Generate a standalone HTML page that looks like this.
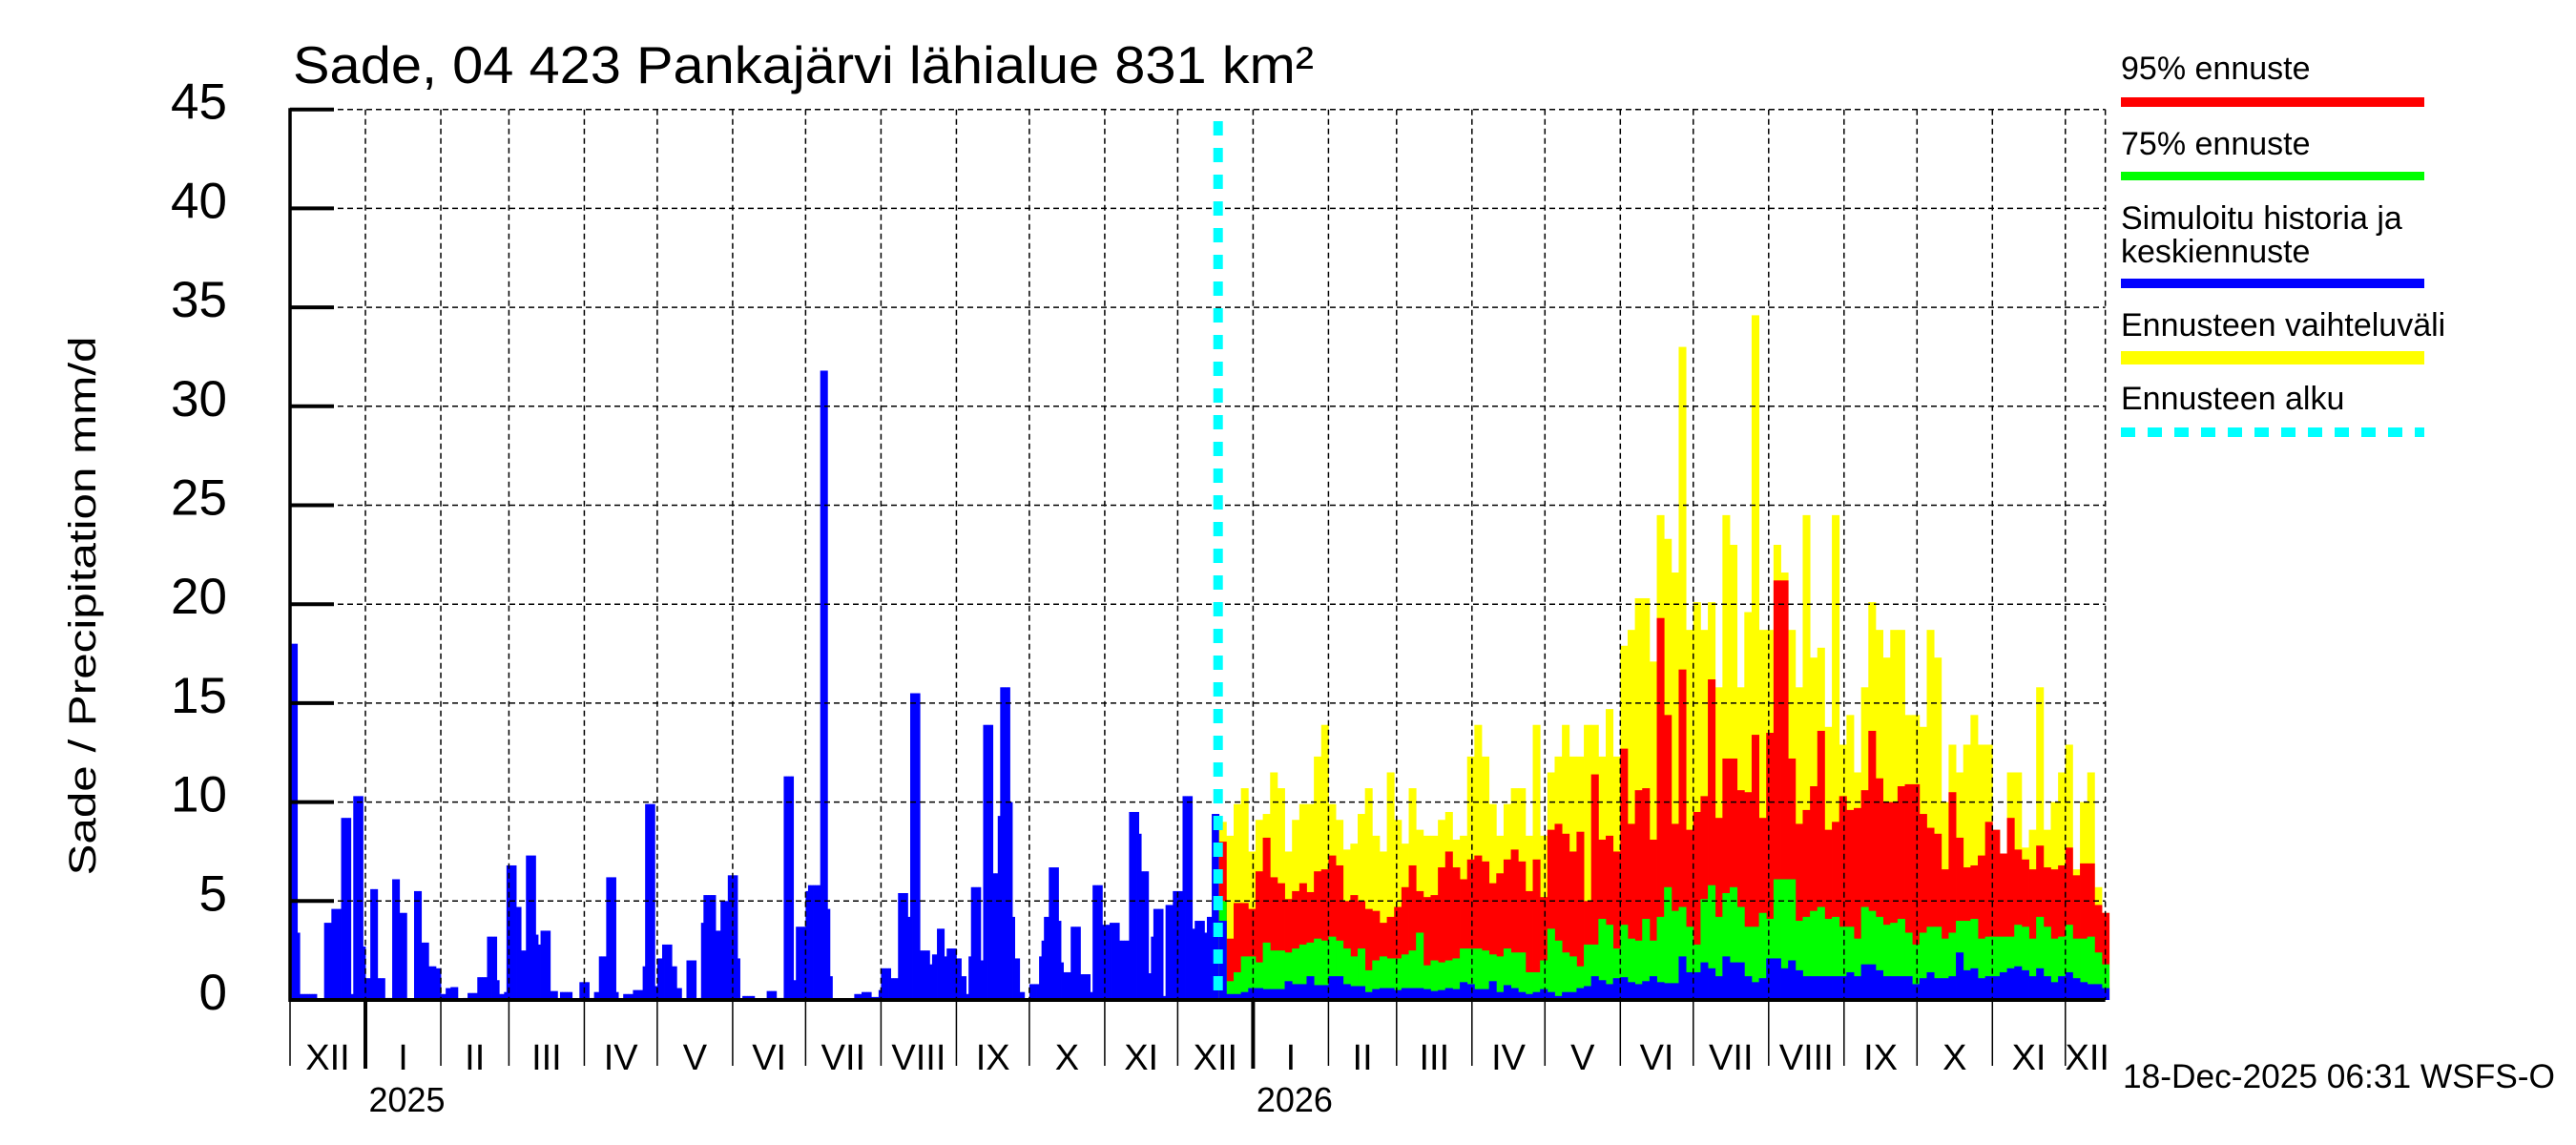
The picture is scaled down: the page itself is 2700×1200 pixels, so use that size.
<!DOCTYPE html>
<html><head><meta charset="utf-8"><title>Sade, 04 423 Pankajärvi lähialue</title>
<style>
html,body{margin:0;padding:0;background:#fff;}
svg{display:block;font-family:"Liberation Sans",sans-serif;}
</style></head>
<body>
<svg id="chart" width="2700" height="1200" viewBox="0 0 2700 1200" xmlns="http://www.w3.org/2000/svg">
<rect x="0" y="0" width="2700" height="1200" fill="#fff"/>
<g id="bars"></g>
<g id="grid"></g>
<g id="axes"></g>
<text x="307" y="87" font-size="55" textLength="1070" lengthAdjust="spacingAndGlyphs">Sade, 04 423 Pankajärvi lähialue 831 km²</text>
<text transform="translate(100,635) rotate(-90)" text-anchor="middle" font-size="40" textLength="565" lengthAdjust="spacingAndGlyphs">Sade / Precipitation   mm/d</text>
<text x="2225" y="1140" font-size="35" textLength="453" lengthAdjust="spacingAndGlyphs">18-Dec-2025 06:31 WSFS-O</text>
<g font-size="34">
  <text x="2223" y="83">95% ennuste</text>
  <rect x="2223" y="102" width="318" height="10" fill="#ff0000"/>
  <text x="2223" y="162">75% ennuste</text>
  <rect x="2223" y="180" width="318" height="9" fill="#00ff00"/>
  <text x="2223" y="240">Simuloitu historia ja</text>
  <text x="2223" y="275">keskiennuste</text>
  <rect x="2223" y="292" width="318" height="10" fill="#0000ff"/>
  <text x="2223" y="352">Ennusteen vaihteluväli</text>
  <rect x="2223" y="368" width="318" height="14" fill="#ffff00"/>
  <text x="2223" y="429">Ennusteen alku</text>
  <line x1="2223" y1="453" x2="2541" y2="453" stroke="#00ffff" stroke-width="10" stroke-dasharray="15,13"/>
</g>
</svg>
<script>
// ---- data ----
const histValues = [
18,18,18,3.4,0.3,0.3,0.3,0.3,0.3,0.3,
0.3,0,0,0,3.9,3.9,3.9,4.6,4.6,4.6,
4.6,9.2,9.2,9.2,9.2,0.3,10.3,10.3,10.3,10.3,
2.7,1.1,1.1,5.6,5.6,5.6,1.1,1.1,1.1,0.1,
0.1,0.1,6.1,6.1,6.1,4.4,4.4,4.4,0,0,
0,5.5,5.5,5.5,2.9,2.9,2.9,1.7,1.7,1.7,
1.6,1.6,0.3,0.3,0.6,0.6,0.65,0.65,0.65,0,
0,0.1,0.1,0.35,0.35,0.35,0.35,1.15,1.15,1.15,
1.15,3.2,3.2,3.2,3.2,1.0,0.3,0.3,0.4,6.8,
6.8,6.8,6.8,4.7,4.7,2.5,2.5,7.3,7.3,7.3,
7.3,3.3,2.8,3.5,3.5,3.5,3.5,0.45,0.45,0.45,
0,0.4,0.4,0.4,0.4,0.4,0,0,0,0.9,
0.9,0.9,0.9,0.1,0.1,0.4,0.4,2.2,2.2,2.2,
6.2,6.2,6.2,6.2,0.4,0,0,0.3,0.3,0.3,
0.3,0.5,0.5,0.5,0.5,1.7,9.9,9.9,9.9,9.9,
0.7,2.1,2.1,2.8,2.8,2.8,2.8,1.7,1.7,0.6,
0.6,0,0,2.0,2.0,2.0,2.0,0,0.1,3.9,
5.3,5.3,5.3,5.3,5.3,3.5,3.5,5.0,5.0,5.0,
6.3,6.3,6.3,6.3,2.1,0,0.2,0.2,0.2,0.2,
0.2,0.05,0.05,0.05,0.05,0.05,0.45,0.45,0.45,0.45,
0.1,0.1,0.1,11.3,11.3,11.3,11.3,1.0,3.7,3.7,
3.7,3.7,5.5,5.8,5.8,5.8,5.8,5.8,31.8,31.8,
31.8,4.6,1.2,0.05,0.05,0.05,0.05,0.05,0.05,0.05,
0.05,0.05,0.3,0.3,0.3,0.4,0.4,0.4,0.4,0.15,
0.15,0.15,0.5,1.6,1.6,1.6,1.6,1.1,1.1,1.1,
5.4,5.4,5.4,5.4,4.2,15.5,15.5,15.5,15.5,2.5,
2.5,2.5,2.5,1.8,2.3,2.3,3.6,3.6,3.6,2.2,
2.6,2.6,2.6,2.6,2.1,2.1,1.2,1.2,0.3,2.2,
5.7,5.7,5.7,5.7,2.0,13.9,13.9,13.9,13.9,6.4,
6.4,9.3,15.8,15.8,15.8,15.8,10,4.2,2.1,2.1,
0.4,0.4,0,0,0.8,0.8,0.8,0.8,2.2,3.0,
4.2,4.2,6.7,6.7,6.7,6.7,4.0,1.9,1.4,1.4,
1.4,3.7,3.7,3.7,3.7,1.3,1.3,1.3,1.3,0.4,
5.8,5.8,5.8,5.8,3.8,3.8,3.8,3.9,3.9,3.9,
3.9,3.0,3.0,3.0,3.0,9.5,9.5,9.5,9.5,8.4,
6.5,6.5,6.5,1.35,3.2,4.6,4.6,4.6,4.6,0.2,
4.8,4.8,4.8,5.5,5.5,5.5,5.5,10.3,10.3,10.3,
10.3,3.6,4.0,4.0,4.0,4.0,3.4,4.2,4.2,9.4,9.4,9.4
];
const fcYellow = [
9,8.3,9.9,10.7,7.5,9.1,9.4,11.5,10.7,7.5,
9.1,9.9,9.9,12.3,13.9,9.9,9.1,7.6,7.9,9.4,
10.7,8.3,7.5,11.5,9.1,7.9,10.7,8.6,8.3,8.3,
9.1,9.5,8.1,8.3,12.3,13.9,12.3,9.9,8.3,9.9,
10.7,10.7,8.3,13.9,8.3,11.5,12.3,13.9,12.3,12.3,
13.9,13.9,12.3,14.7,12.3,17.9,18.7,20.3,20.3,17.1,
24.5,23.3,21.6,33,18.7,20.1,18.7,20.1,15.8,24.5,
23,15.8,19.6,34.6,18.7,18.7,23,21.6,18.7,15.8,
24.5,17.3,17.8,13.8,24.5,12.9,14.4,11.5,15.8,20.1,
18.7,17.3,18.7,18.7,14.4,14.4,13.8,18.7,17.3,10,
12.9,11.5,12.9,14.4,12.9,12.9,8.6,7.4,11.5,11.5,
7.7,8.6,15.8,8.6,10,11.5,12.9,6.6,10,11.5,
5.7,4.4
];
const fcRed = [
8,3.1,4.9,4.9,4.6,6.5,8.2,6.2,5.9,5.1,
5.5,5.9,5.45,6.5,6.6,7.3,6.8,5.0,5.3,5.0,
4.6,4.5,3.9,4.2,4.7,5.7,6.8,5.5,5.2,5.3,
6.7,7.5,6.7,6.1,7.1,7.3,7.0,5.9,6.4,7.1,
7.6,7.0,5.5,7.1,5.2,8.6,8.9,8.4,7.5,8.5,
5.0,11.4,8.1,8.3,7.5,12.7,8.9,10.6,10.7,8.1,
19.3,14.4,8.9,16.7,8.6,9.5,10.3,16.2,9.2,12.2,
12.2,10.6,10.5,13.4,9.2,13.5,21.2,21.2,12.2,8.9,
9.6,10.8,13.6,8.6,9.0,10.3,9.6,9.7,10.6,13.6,
11.2,10.0,10.0,10.8,10.9,10.9,9.4,8.7,8.4,6.6,
10.5,8.2,6.7,6.8,7.3,9.0,8.6,7.4,9.2,7.6,
7.1,6.6,7.8,6.7,6.6,6.8,7.7,6.3,6.9,6.9,
4.8,4.4
];
const fcGreen = [
5,0.95,1.4,2.2,2.2,1.9,2.9,2.5,2.5,2.4,
2.6,2.8,2.9,3.1,3.0,3.2,3.0,2.6,2.2,2.6,
1.5,2.0,2.2,2.1,2.1,2.3,2.5,3.4,1.75,2.0,
1.9,2.0,2.1,2.6,2.6,2.6,2.5,2.3,2.2,2.6,
2.4,2.4,1.4,1.4,2.0,3.6,3.0,2.4,2.2,1.7,
2.8,2.8,4.1,3.8,2.6,3.8,3.1,3.0,4.1,3.0,
4.2,5.7,4.5,4.7,3.7,2.8,5.1,5.8,4.2,5.4,
5.7,4.7,3.7,3.7,4.4,4.1,6.1,6.1,6.1,4.0,
4.2,4.5,4.7,4.1,4.2,3.7,3.7,3.1,4.7,4.5,
4.2,3.8,3.9,4.1,3.4,2.8,3.4,3.7,3.7,3.1,
3.4,4.0,4.0,4.1,3.1,3.2,3.2,3.2,3.2,3.8,
3.7,3.1,4.2,3.7,3.1,3.2,3.8,3.1,3.1,3.2,
2.4,1.8
];
const fcBlue = [
4,0.3,0.3,0.4,0.6,0.6,0.55,0.55,0.55,0.95,
0.8,0.8,1.2,0.75,0.75,1.2,1.2,0.8,0.7,0.7,
0.4,0.55,0.6,0.6,0.5,0.6,0.6,0.6,0.55,0.45,
0.5,0.6,0.55,0.9,0.8,0.55,0.55,0.95,0.4,0.75,
0.6,0.4,0.3,0.4,0.55,0.4,0.2,0.4,0.4,0.6,
0.7,1.2,1.0,0.8,1.1,1.15,0.9,0.8,0.95,1.2,
0.9,0.85,0.85,2.2,1.4,1.4,1.9,1.6,1.2,2.2,
1.9,1.9,1.2,0.9,1.1,2.1,2.1,1.6,2.0,1.5,
1.2,1.2,1.2,1.2,1.2,1.2,1.4,1.2,1.8,1.8,
1.5,1.2,1.2,1.2,1.2,0.8,1.1,1.4,1.1,1.1,
1.2,2.4,1.5,1.6,1.1,1.2,1.2,1.4,1.6,1.7,
1.5,1.2,1.6,1.2,0.9,1.2,1.4,1.1,0.9,0.8,
0.8,0.6
];
const yTicks = [0,5,10,15,20,25,30,35,40,45];
const monthLabels = ["XII","I","II","III","IV","V","VI","VII","VIII","IX","X","XI","XII","I","II","III","IV","V","VI","VII","VIII","IX","X","XI","XII"];
const monthLengths = [31,31,28,31,30,31,30,31,31,30,31,30,31,31,28,31,30,31,30,31,31,30,31,30,31];
const yearLabels = ["2025","2026"];
const yearMonthIndex = [1,13];
const forecastStartDay = 382;
const forecastBinDays = 3;
const totalDays = 748;

// ---- scales ----
const X0 = 304, DAYW = 2.549, Y0 = 1048, YU = 20.74, YMAX = 45;
const XEND = X0 + totalDays * DAYW - 4;
function xs(d){ return X0 + d * DAYW; }
function ys(v){ return Y0 - v * YU; }
const NS = "http://www.w3.org/2000/svg";
function mk(tag, attrs, parent){
  const e = document.createElementNS(NS, tag);
  for (const k in attrs) e.setAttribute(k, attrs[k]);
  parent.appendChild(e);
  return e;
}
const bars = document.getElementById('bars');
const grid = document.getElementById('grid');
const axes = document.getElementById('axes');

histValues.forEach(function(v, i){
  const r = mk('rect', {x: xs(i), y: ys(v), width: DAYW + 0.4, height: Math.max(0, Y0 - ys(v)), fill: '#0000ff'}, bars);
  
  
});
const fcSeries = [[fcYellow,'#ffff00','forecast-range-bar'],[fcRed,'#ff0000','forecast-95-bar'],[fcGreen,'#00ff00','forecast-75-bar'],[fcBlue,'#0000ff','forecast-median-bar']];
fcSeries.forEach(function(s){
  s[0].forEach(function(v, k){
    const d = forecastStartDay + k * forecastBinDays;
    const r = mk('rect', {x: xs(d), y: ys(v), width: forecastBinDays * DAYW + 0.4, height: Math.max(0, Y0 - ys(v)), fill: s[1]}, bars);
    
    
  });
});

yTicks.forEach(function(t){
  if (t === 0) return;
  const l = mk('line', {x1: X0, y1: ys(t), x2: XEND, y2: ys(t), stroke: '#000', 'stroke-width': 1.5, 'stroke-dasharray': '6,4'}, grid);
  
  
});
let day = 0;
const starts = [];
monthLengths.forEach(function(len){ starts.push(day); day += len; });
starts.forEach(function(sd, i){
  const x = xs(sd);
  if (i > 0) {
    const g = mk('line', {x1: x, y1: ys(YMAX), x2: x, y2: Y0, stroke: '#000', 'stroke-width': 1.5, 'stroke-dasharray': '6,4'}, grid);
    
    
  }
  const isYear = yearMonthIndex.indexOf(i) >= 0;
  const t = mk('line', {x1: x, y1: Y0, x2: x, y2: isYear ? 1120 : 1117, stroke: '#000', 'stroke-width': isYear ? 4 : 1.5}, axes);
  
  
  const endD = Math.min(sd + monthLengths[i], totalDays);
  const lbl = mk('text', {x: (xs(sd) + xs(endD)) / 2, y: 1121, 'font-size': 38, 'text-anchor': 'middle'}, axes);
  lbl.textContent = monthLabels[i];
  
  
});
yearLabels.forEach(function(y, j){
  const mi = yearMonthIndex[j];
  const t = mk('text', {x: (xs(starts[mi]) + xs(starts[mi] + monthLengths[mi])) / 2 + 4, y: 1165, 'font-size': 36, 'text-anchor': 'middle'}, axes);
  t.textContent = y;
  
  
});
const rb = mk('line', {x1: XEND, y1: ys(YMAX), x2: XEND, y2: Y0, stroke: '#000', 'stroke-width': 1.5, 'stroke-dasharray': '6,4'}, grid);



const ya = mk('line', {x1: X0, y1: ys(YMAX) - 1.5, x2: X0, y2: Y0 + 2, stroke: '#000', 'stroke-width': 3.5}, axes);


const xa = mk('line', {x1: X0, y1: Y0, x2: XEND, y2: Y0, stroke: '#000', 'stroke-width': 4}, axes);


yTicks.forEach(function(t){
  const tk = mk('line', {x1: X0, y1: ys(t), x2: X0 + 46, y2: ys(t), stroke: '#000', 'stroke-width': 4}, axes);
  
  
  const lb = mk('text', {x: 238, y: ys(t) + 10, 'font-size': 53, 'text-anchor': 'end'}, axes);
  lb.textContent = String(t);
  
  
});
const fs = mk('line', {x1: xs(forecastStartDay) - 1, y1: 127, x2: xs(forecastStartDay) - 1, y2: Y0, stroke: '#00ffff', 'stroke-width': 10, 'stroke-dasharray': '15,13'}, axes);


</script>
</body></html>
